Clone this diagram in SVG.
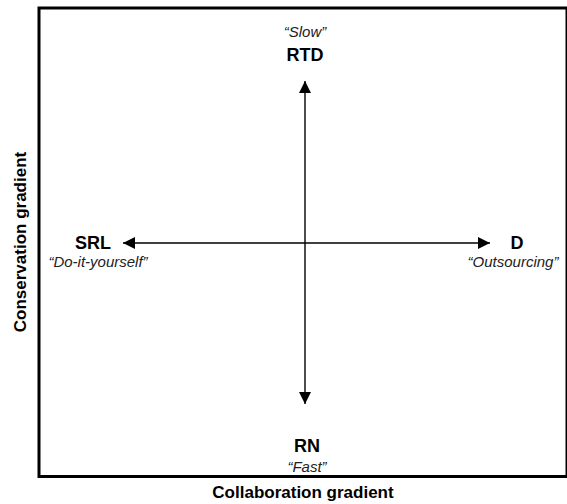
<svg xmlns="http://www.w3.org/2000/svg" width="567" height="504" viewBox="0 0 567 504">
<style>
.b{font-family:"Liberation Sans",Arial,sans-serif;font-weight:bold;font-size:18px;fill:#000;text-anchor:middle}
.i{font-family:"Liberation Sans",Arial,sans-serif;font-style:italic;font-size:15px;fill:#222;text-anchor:middle}
.t{font-family:"Liberation Sans",Arial,sans-serif;font-weight:bold;font-size:17px;fill:#000;text-anchor:middle}
.ax{stroke:#000;stroke-width:1.4;fill:none}
</style>
<defs>
<marker id="ah" viewBox="0 0 12 12" refX="12" refY="6" markerWidth="12" markerHeight="12" markerUnits="userSpaceOnUse" orient="auto">
<path d="M0,0 L12,6 L0,12 Z" fill="#000"/>
</marker>
</defs>
<rect x="39" y="8" width="528" height="468.5" fill="#fff" stroke="#000" stroke-width="3"/>
<g id="connectors">
<line class="ax" x1="305" y1="243" x2="305" y2="81" marker-end="url(#ah)"/>
<line class="ax" x1="305" y1="243" x2="305" y2="404" marker-end="url(#ah)"/>
<line class="ax" x1="305" y1="243" x2="123" y2="243" marker-end="url(#ah)"/>
<line class="ax" x1="305" y1="243" x2="490" y2="243" marker-end="url(#ah)"/>
</g>
<g id="node-rtd">
<text class="i" x="305" y="37">“Slow”</text>
<text class="b" x="305" y="61">RTD</text>
</g>
<g id="node-rn">
<text class="b" x="307" y="452">RN</text>
<text class="i" x="307" y="472">“Fast”</text>
</g>
<g id="node-srl">
<text class="b" x="93" y="249">SRL</text>
<text class="i" x="98" y="267">“Do-it-yourself”</text>
</g>
<g id="node-d">
<text class="b" x="517" y="249">D</text>
<text class="i" x="513" y="267">“Outsourcing”</text>
</g>
<text class="t" x="303" y="498">Collaboration gradient</text>
<text class="t" transform="translate(26,242) rotate(-90)">Conservation gradient</text>
</svg>
